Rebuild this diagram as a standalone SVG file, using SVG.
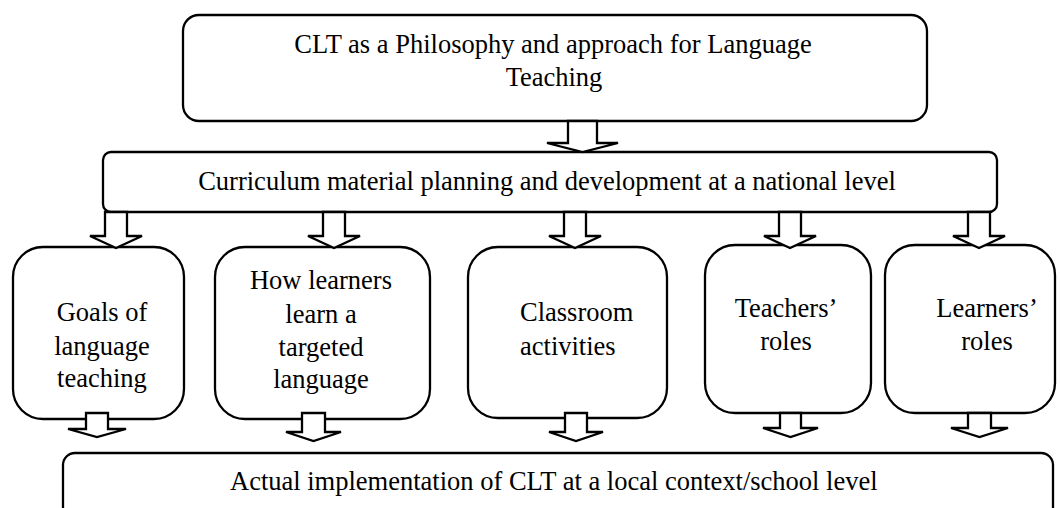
<svg xmlns="http://www.w3.org/2000/svg" width="1060" height="508" viewBox="0 0 1060 508">
<style>
.box{fill:#fff;stroke:#000;stroke-width:2.3}
.arr{fill:#fff;stroke:#000;stroke-width:2.3;stroke-linejoin:miter}
text{font-family:'Liberation Serif','Times New Roman',Times,serif;font-size:26.5px;fill:#000}
.c{text-anchor:middle}
</style>
<rect width="1060" height="508" fill="#fff"/>
<g id="top">
<rect class="box" x="183" y="15" width="744" height="106" rx="16"/>
<text class="c" x="553" y="53">CLT as a Philosophy and approach for Language</text>
<text class="c" x="554" y="86">Teaching</text>
</g>
<g id="curriculum">
<rect class="box" x="103" y="152" width="894" height="60" rx="8"/>
<text class="c" x="547" y="190">Curriculum material planning and development at a national level</text>
</g>
<g id="goals">
<rect class="box" x="13" y="247" width="171" height="172" rx="30"/>
<text class="c" x="102" y="321">Goals of</text>
<text class="c" x="102" y="355">language</text>
<text class="c" x="102" y="387">teaching</text>
</g>
<g id="how">
<rect class="box" x="215" y="247" width="215" height="172" rx="30"/>
<text class="c" x="321" y="289">How learners</text>
<text class="c" x="321" y="323">learn a</text>
<text class="c" x="321" y="356">targeted</text>
<text class="c" x="321" y="388">language</text>
</g>
<g id="classroom">
<rect class="box" x="468" y="247" width="199" height="171" rx="30"/>
<text x="520" y="321">Classroom</text>
<text x="520" y="355">activities</text>
</g>
<g id="teachers">
<rect class="box" x="705" y="245" width="166" height="168" rx="30"/>
<text class="c" x="786" y="317">Teachers’</text>
<text class="c" x="786" y="350">roles</text>
</g>
<g id="learners">
<rect class="box" x="885" y="245" width="170" height="168" rx="30"/>
<text class="c" x="987" y="317">Learners’</text>
<text class="c" x="987" y="350">roles</text>
</g>
<g id="bottom">
<rect class="box" x="63" y="453" width="990" height="80" rx="12"/>
<text x="230" y="490">Actual implementation of CLT at a local context/school level</text>
</g>
<g id="connectors">
<path class="arr" d="M568,121 V143 H547 L582.5,152 L618,143 H597 V121 Z"/>
<path class="arr" d="M105,212 V236 H90 L116,248 L142,236 H127 V212 Z"/>
<path class="arr" d="M323,212 V236 H308 L334,248 L360,236 H345 V212 Z"/>
<path class="arr" d="M564,212 V236 H549 L575,248 L601,236 H586 V212 Z"/>
<path class="arr" d="M779,212 V236 H764 L790,248 L816,236 H801 V212 Z"/>
<path class="arr" d="M968,212 V236 H953 L979,248 L1005,236 H990 V212 Z"/>
<path class="arr" d="M86,413 V429 H68 L97,437 L126,429 H108 V413 Z"/>
<path class="arr" d="M302,413 V432 H286 L313.5,441 L341,432 H325 V413 Z"/>
<path class="arr" d="M565,413 V432 H549 L576,441 L603,432 H587 V413 Z"/>
<path class="arr" d="M780,413 V428 H763 L790.5,437 L818,428 H801 V413 Z"/>
<path class="arr" d="M968,413 V428 H951 L979.5,437 L1008,428 H991 V413 Z"/>
</g>
</svg>
